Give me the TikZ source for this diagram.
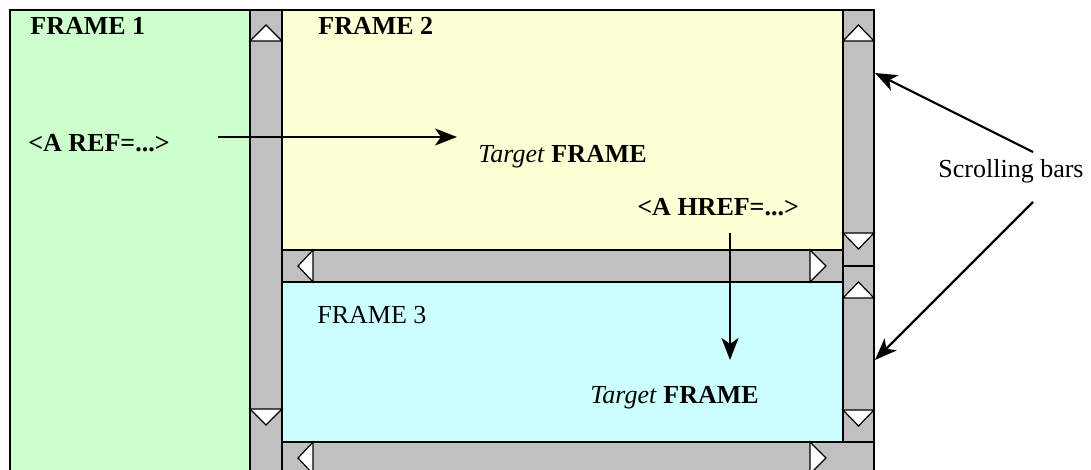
\documentclass[tikz,border=0pt]{standalone}
\usepackage{fontspec}
\setmainfont{Liberation Serif}
\usetikzlibrary{arrows.meta}
\definecolor{framegreen}{HTML}{CCFFCC}
\definecolor{frameyellow}{HTML}{FFFFD5}
\definecolor{framecyan}{HTML}{CCFFFF}
\definecolor{bargray}{HTML}{C0C0C0}
\tikzstyle{pane}=[draw=black,
	line width=1.2pt]
\tikzstyle{bar}=[draw=black,
	line width=1.2pt,
	fill=bargray]
\tikzstyle{knob}=[draw=black,
	line width=0.6pt,
	fill=white]
\tikzstyle{frametext}=[inner sep=0pt,
	anchor=base west,
	font=\fontsize{13}{15}\selectfont]
\tikzstyle{link}=[line width=1.1pt,
	-{Stealth[length=11pt,width=8.5pt,inset=3pt]}]
\begin{document}
\begin{tikzpicture}[x=0.5pt,y=-0.5pt]
					\clip (0,0) rectangle (1091,470);
					% frames
					\draw[pane, fill=framegreen] (10,10) rectangle (250,480);
					\draw[pane, fill=frameyellow] (282,10) rectangle (843,250);
					\draw[pane, fill=framecyan] (282,282) rectangle (843,442);
					% scrolling bars
					\draw[bar] (250,10) rectangle (282,480);
					\draw[bar] (843,10) rectangle (874,266);
					\draw[bar] (843,266) rectangle (874,442);
					\draw[bar] (282,250) rectangle (843,282);
					\draw[bar] (282,442) rectangle (874,480);
					% bar buttons
					\draw[knob] (250,41) -- (266,25) -- (282,41) -- cycle;
					\draw[knob] (250,409) -- (266,425) -- (282,409) -- cycle;
					\draw[knob] (843,41) -- (858.5,25) -- (874,41) -- cycle;
					\draw[knob] (843,233) -- (858.5,249) -- (874,233) -- cycle;
					\draw[knob] (843,298) -- (858.5,282) -- (874,298) -- cycle;
					\draw[knob] (843,410) -- (858.5,426) -- (874,410) -- cycle;
					\draw[knob] (313,250) -- (298,266) -- (313,282) -- cycle;
					\draw[knob] (810,250) -- (826,266) -- (810,282) -- cycle;
					\draw[knob] (313,442) -- (298,458) -- (313,474) -- cycle;
					\draw[knob] (810,442) -- (826,458) -- (810,474) -- cycle;

					\node (frame1) [frametext] at (30,35) {\textbf{FRAME 1}};
					\node (frame2) [frametext] at (318,35) {\textbf{FRAME 2}};
					\node (frame3) [frametext] at (317,323) {FRAME 3};
					\node (aref) [frametext] at (28,152) {\textbf{<A REF=...>}};
					\node (target2) [frametext] at (478,163) {\textit{Target} \textbf{FRAME}};
					\node (ahref) [frametext] at (637,215) {\textbf{<A HREF=...>}};
					\node (target3) [frametext] at (590,403) {\textit{Target} \textbf{FRAME}};
					\node (scroll) [frametext] at (938,178) {Scrolling bars};

					\coordinate (refout) at (218,137);
					\coordinate (refin) at (457,137);
					\draw[link] (refout) -- (refin);
					\coordinate (hrefout) at (730,233);
					\coordinate (hrefin) at (730,360);
					\draw[link] (hrefout) -- (hrefin);
					\coordinate (scrollup) at (1033,152);
					\coordinate (bar2) at (875,73);
					\draw[link] (scrollup) -- (bar2);
					\coordinate (scrolldown) at (1033,202);
					\coordinate (bar3) at (875,360);
					\draw[link] (scrolldown) -- (bar3);
				\end{tikzpicture}
\end{document}
